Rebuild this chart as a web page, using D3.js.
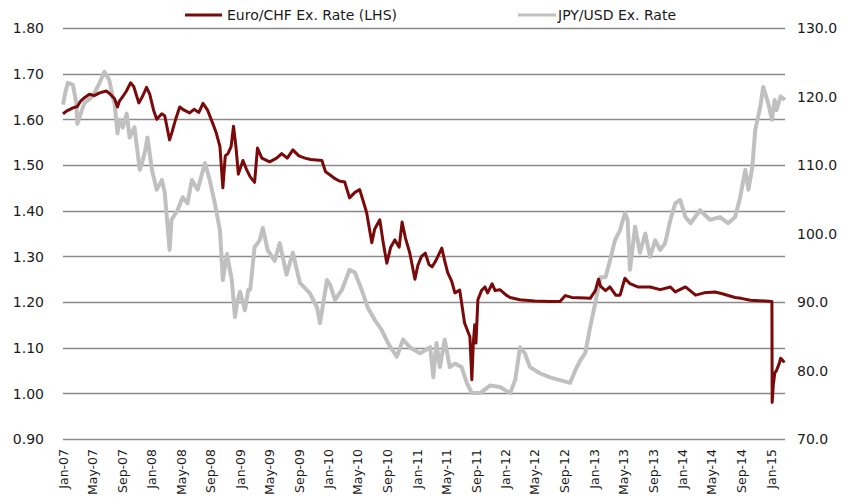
<!DOCTYPE html>
<html>
<head>
<meta charset="utf-8">
<script src="https://cdn.jsdelivr.net/npm/d3@7"></script>
<style>
  html, body { margin: 0; padding: 0; background: #fff; }
  svg text { font-family: "DejaVu Sans", Verdana, sans-serif; fill: #1a1a1a; }
</style>
</head>
<body>
<svg id="chart" width="848" height="504"></svg>
<script>
// ---- data ----
const eurDates = ["2007-01-01","2007-01-15","2007-02-11","2007-03-01","2007-03-15","2007-04-01","2007-04-20","2007-05-10","2007-06-01","2007-06-29","2007-07-15","2007-08-02","2007-08-14","2007-08-22","2007-09-05","2007-09-20","2007-10-07","2007-10-20","2007-11-10","2007-11-25","2007-12-12","2007-12-25","2008-01-10","2008-01-23","2008-02-13","2008-02-25","2008-03-16","2008-03-25","2008-04-10","2008-04-27","2008-05-15","2008-06-07","2008-06-25","2008-07-15","2008-08-01","2008-08-20","2008-09-11","2008-09-25","2008-10-10","2008-10-22","2008-11-01","2008-11-12","2008-11-25","2008-12-05","2008-12-15","2008-12-25","2009-01-13","2009-01-28","2009-02-12","2009-03-02","2009-03-14","2009-04-01","2009-05-03","2009-06-01","2009-06-22","2009-07-15","2009-08-07","2009-09-01","2009-09-26","2009-10-20","2009-12-05","2009-12-20","2010-01-08","2010-01-28","2010-02-15","2010-03-09","2010-03-29","2010-04-20","2010-05-10","2010-05-25","2010-06-08","2010-06-29","2010-07-11","2010-08-01","2010-08-15","2010-08-30","2010-09-15","2010-10-02","2010-10-20","2010-11-01","2010-11-15","2010-12-03","2010-12-24","2011-01-05","2011-01-20","2011-02-05","2011-02-20","2011-03-05","2011-03-20","2011-04-14","2011-04-26","2011-05-08","2011-05-25","2011-06-07","2011-06-27","2011-07-17","2011-08-08","2011-08-16","2011-08-22","2011-08-28","2011-09-02","2011-09-10","2011-09-25","2011-10-09","2011-10-20","2011-11-08","2011-11-20","2011-12-10","2012-01-05","2012-01-21","2012-03-01","2012-05-01","2012-07-04","2012-08-14","2012-09-05","2012-10-01","2012-11-26","2012-12-17","2013-01-07","2013-01-20","2013-01-28","2013-02-18","2013-03-08","2013-04-01","2013-04-19","2013-05-09","2013-05-30","2013-07-01","2013-08-21","2013-10-02","2013-11-13","2013-12-03","2014-01-14","2014-02-25","2014-04-01","2014-05-16","2014-06-15","2014-08-07","2014-09-01","2014-10-09","2014-11-15","2015-01-06","2015-01-07","2015-01-12","2015-01-18","2015-01-25","2015-02-05","2015-02-11","2015-02-23","2015-02-27"];
const eurValues = [1.612,1.618,1.625,1.628,1.640,1.648,1.655,1.652,1.658,1.662,1.655,1.645,1.627,1.640,1.650,1.662,1.680,1.672,1.636,1.650,1.670,1.655,1.620,1.600,1.612,1.608,1.555,1.570,1.600,1.627,1.620,1.614,1.622,1.615,1.635,1.620,1.590,1.570,1.540,1.450,1.520,1.525,1.540,1.585,1.540,1.480,1.510,1.490,1.474,1.462,1.537,1.515,1.507,1.515,1.525,1.515,1.533,1.520,1.515,1.512,1.510,1.485,1.478,1.470,1.465,1.463,1.428,1.440,1.446,1.420,1.395,1.330,1.360,1.380,1.330,1.285,1.320,1.336,1.320,1.375,1.340,1.307,1.250,1.280,1.300,1.307,1.282,1.277,1.290,1.318,1.290,1.265,1.245,1.220,1.226,1.154,1.124,1.030,1.110,1.150,1.110,1.205,1.225,1.233,1.220,1.240,1.225,1.227,1.215,1.210,1.205,1.202,1.201,1.201,1.214,1.210,1.209,1.208,1.225,1.250,1.235,1.225,1.233,1.215,1.215,1.252,1.240,1.233,1.233,1.227,1.233,1.222,1.233,1.215,1.220,1.222,1.218,1.210,1.208,1.204,1.203,1.201,0.980,1.020,1.045,1.050,1.065,1.077,1.070,1.072];

const jpyDates = ["2007-01-01","2007-01-10","2007-01-21","2007-02-11","2007-02-25","2007-03-01","2007-03-15","2007-03-30","2007-04-15","2007-05-02","2007-05-15","2007-06-01","2007-06-21","2007-07-11","2007-07-25","2007-08-02","2007-08-14","2007-08-22","2007-09-05","2007-09-21","2007-10-03","2007-10-23","2007-11-14","2007-11-25","2007-12-04","2007-12-16","2008-01-03","2008-01-23","2008-02-13","2008-02-25","2008-03-08","2008-03-16","2008-03-24","2008-04-18","2008-05-09","2008-05-29","2008-06-16","2008-07-10","2008-08-09","2008-08-29","2008-09-19","2008-10-10","2008-10-22","2008-11-08","2008-11-28","2008-12-11","2008-12-20","2009-01-01","2009-01-13","2009-01-21","2009-02-04","2009-02-12","2009-03-02","2009-03-23","2009-04-05","2009-04-25","2009-05-24","2009-06-14","2009-07-12","2009-08-07","2009-09-05","2009-10-16","2009-11-15","2009-11-27","2009-12-26","2010-01-08","2010-01-28","2010-02-26","2010-03-29","2010-04-20","2010-05-18","2010-06-12","2010-07-11","2010-08-09","2010-09-04","2010-10-10","2010-11-05","2010-12-03","2011-01-14","2011-02-25","2011-03-10","2011-03-23","2011-04-06","2011-04-26","2011-05-17","2011-06-07","2011-07-05","2011-07-26","2011-08-16","2011-09-19","2011-10-30","2011-12-10","2012-01-21","2012-02-11","2012-03-02","2012-03-22","2012-04-12","2012-05-23","2012-07-04","2012-08-14","2012-09-25","2012-10-16","2012-11-06","2012-11-26","2012-12-17","2013-01-07","2013-01-28","2013-02-18","2013-03-08","2013-03-29","2013-04-19","2013-05-09","2013-05-20","2013-05-30","2013-06-20","2013-07-10","2013-08-01","2013-08-21","2013-09-11","2013-10-02","2013-10-22","2013-11-13","2013-12-03","2013-12-23","2014-01-14","2014-02-04","2014-03-15","2014-04-25","2014-06-06","2014-07-09","2014-08-07","2014-08-28","2014-09-18","2014-10-01","2014-10-17","2014-10-29","2014-11-19","2014-12-01","2014-12-22","2015-01-06","2015-01-17","2015-01-25","2015-02-11","2015-03-01"];
const jpyValues = [118.8,120.5,122.0,121.7,119.0,116.0,117.5,119.0,119.5,120.0,120.8,122.0,123.6,122.4,120.0,119.0,114.6,116.6,115.5,117.5,114.0,115.5,109.3,110.5,111.7,114.0,109.3,106.4,107.8,106.0,101.0,97.6,102.0,103.4,105.3,104.4,107.8,106.4,110.3,107.8,104.4,100.5,93.2,97.0,93.2,87.8,90.0,91.5,89.9,88.8,91.8,91.8,98.0,99.0,100.8,97.6,96.0,98.6,94.0,97.2,92.8,91.3,89.2,86.9,93.2,92.5,90.3,91.8,94.7,94.3,91.8,89.2,87.4,85.9,84.0,82.0,84.5,83.4,82.5,83.4,79.0,84.0,80.5,84.5,80.5,81.0,80.5,78.2,76.7,76.7,77.8,77.6,76.7,78.6,83.4,82.5,80.5,79.6,79.0,78.6,78.2,80.0,81.5,82.5,86.4,89.9,93.6,93.6,96.0,99.0,100.5,103.0,102.0,94.7,101.0,97.2,100.0,96.6,99.0,97.6,98.6,102.0,104.4,104.9,102.4,101.5,103.4,102.0,102.4,101.5,102.4,105.3,109.3,106.4,109.7,115.1,118.5,121.4,119.0,116.6,119.5,118.0,120.0,119.5];

const leftTicks = [0.90,1.00,1.10,1.20,1.30,1.40,1.50,1.60,1.70,1.80];
const rightTicks = [70,80,90,100,110,120,130];
const seriesNames = ["Euro/CHF Ex. Rate (LHS)", "JPY/USD Ex. Rate"];

// ---- chart ----
const parse = d3.timeParse("%Y-%m-%d");
const eur = eurDates.map((d, i) => ({ date: parse(d), value: eurValues[i] }));
const jpy = jpyDates.map((d, i) => ({ date: parse(d), value: jpyValues[i] }));

const svg = d3.select("#chart");
const L = 63, R = 785, T = 28, B = 439;

const x = d3.scaleTime().domain([parse("2007-01-01"), parse("2015-03-01")]).range([L, R]);
const yL = d3.scaleLinear().domain([0.90, 1.80]).range([B, T]);
const yR = d3.scaleLinear().domain([70, 130]).range([B, T]);

// gridlines
svg.append("g").selectAll("line").data(leftTicks).join("line")
  .attr("x1", L).attr("x2", R)
  .attr("y1", d => Math.round(yL(d)) + 0.5).attr("y2", d => Math.round(yL(d)) + 0.5)
  .attr("stroke", "#8a8a8a").attr("stroke-width", 1.3);

// left axis
const axL = svg.append("g").attr("transform", `translate(${L - 19},0)`)
  .call(d3.axisLeft(yL).tickValues(leftTicks).tickFormat(d3.format(".2f")).tickSize(0).tickPadding(0));
axL.select(".domain").remove();
axL.selectAll("text").style("font-size", "14px").attr("dy", "0.35em");

// right axis
const axR = svg.append("g").attr("transform", `translate(${R + 12},0)`)
  .call(d3.axisRight(yR).tickValues(rightTicks).tickFormat(d3.format(".1f")).tickSize(0).tickPadding(0));
axR.select(".domain").remove();
axR.selectAll("text").style("font-size", "14px").attr("dy", "0.35em");

// bottom axis
const xTicks = d3.timeMonth.every(4).range(parse("2007-01-01"), parse("2015-02-01"));
const axB = svg.append("g").attr("transform", `translate(0,${B})`)
  .call(d3.axisBottom(x).tickValues(xTicks).tickFormat(d3.timeFormat("%b-%y")).tickSize(0).tickPadding(0));
axB.select(".domain").remove();
axB.selectAll("text")
  .style("font-size", "12.5px")
  .attr("text-anchor", "end")
  .attr("transform", "translate(0,10) rotate(-90)")
  .attr("x", 0).attr("y", 0).attr("dx", 0).attr("dy", "0.35em");

// lines
const lineL = d3.line().x(d => x(d.date)).y(d => yL(d.value));
const lineR = d3.line().x(d => x(d.date)).y(d => yR(d.value));

svg.append("path").datum(jpy).attr("d", lineR)
  .attr("fill", "none").attr("stroke", "#c0c0c0").attr("stroke-width", 4).attr("stroke-linejoin", "round");
svg.append("path").datum(eur).attr("d", lineL)
  .attr("fill", "none").attr("stroke", "#7a0a0a").attr("stroke-width", 3).attr("stroke-linejoin", "round");

// legend
const legend = svg.append("g");
const legItems = [
  { name: seriesNames[0], color: "#7a0a0a", x1: 185, x2: 222, tx: 227 },
  { name: seriesNames[1], color: "#c0c0c0", x1: 518, x2: 556, tx: 558 }
];
legItems.forEach(it => {
  legend.append("line").attr("x1", it.x1).attr("x2", it.x2).attr("y1", 15).attr("y2", 15)
    .attr("stroke", it.color).attr("stroke-width", 3);
  legend.append("text").attr("x", it.tx).attr("y", 15).attr("dy", "0.35em")
    .style("font-size", "14px").text(it.name);
});
</script>
</body>
</html>
